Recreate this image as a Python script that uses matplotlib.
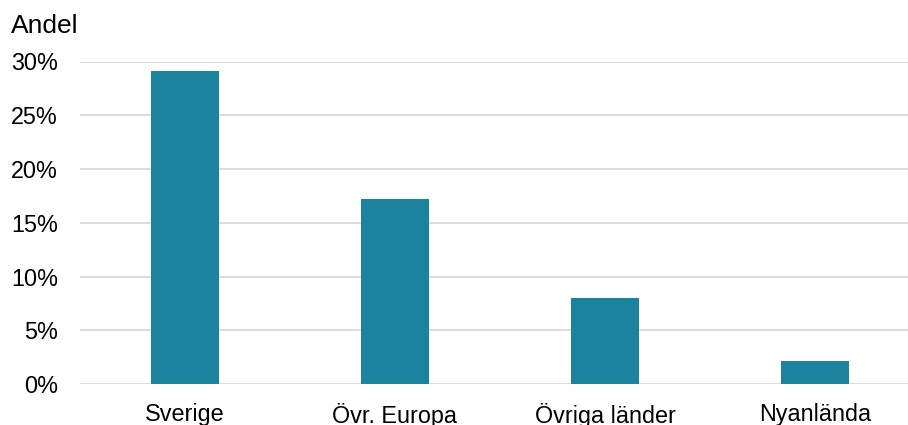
import matplotlib
matplotlib.use("Agg")
import matplotlib.pyplot as plt
from matplotlib.ticker import FuncFormatter

# data
categories = ["Sverige", "Övr. Europa", "Övriga länder", "Nyanlända"]
andel = [29.1, 17.2, 8.0, 2.1]
yticks = [0, 5, 10, 15, 20, 25, 30]

plt.rcParams['font.family'] = ['Liberation Sans', 'DejaVu Sans']

fig = plt.figure(figsize=(9.08, 4.25), dpi=100)
W, H = 908, 425
left, right = 80, 908
top, bottom = 61.5, 384
ax = fig.add_axes([left / W, (H - bottom) / H, (right - left) / W, (bottom - top) / H])

x = list(range(len(categories)))
ax.bar(x, andel, width=0.32, color="#1c839f", zorder=3)

ax.set_xlim(-0.5, -0.5 + (right - left) / 210)
ax.set_ylim(0, 30)
ax.set_yticks(yticks)
ax.yaxis.set_major_formatter(FuncFormatter(lambda v, p: f"{v:.0f}%"))
ax.set_xticks(x)
ax.set_xticklabels(categories)
ax.grid(axis="y", color="#d9d9d9", linewidth=1.3, zorder=0)
for s in ax.spines.values():
    s.set_visible(False)
ax.tick_params(axis="both", length=0, labelsize=16.8, colors="black")
ax.tick_params(axis="y", pad=16)
ax.tick_params(axis="x", pad=13.5)

fig.text(11 / W, 1 - 33 / H, "Andel", fontsize=19, ha="left", va="baseline")

fig.savefig("out.png", dpi=100)
